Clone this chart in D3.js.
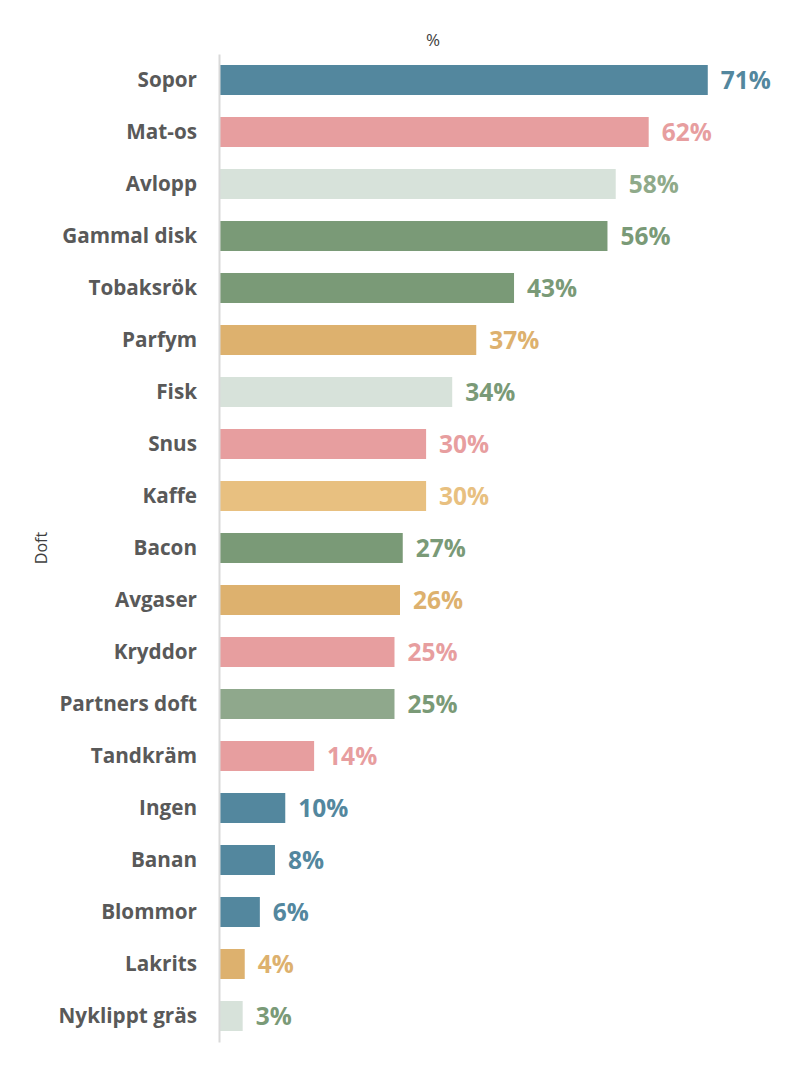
<!DOCTYPE html>
<html>
<head>
<meta charset="utf-8">
<script src="https://cdn.jsdelivr.net/npm/d3@7"></script>
<style>
  html, body { margin: 0; padding: 0; background: #fff; }
  svg { display: block; }
</style>
</head>
<body>
<svg id="chart" width="790" height="1065"></svg>
<script>
const categories = ["Sopor","Mat-os","Avlopp","Gammal disk","Tobaksrök","Parfym","Fisk","Snus","Kaffe","Bacon","Avgaser","Kryddor","Partners doft","Tandkräm","Ingen","Banan","Blommor","Lakrits","Nyklippt gräs"];
const values = [71.0, 62.4, 57.6, 56.4, 42.8, 37.3, 33.8, 30.0, 30.0, 26.6, 26.2, 25.4, 25.4, 13.7, 9.5, 8.0, 5.8, 3.6, 3.3];
const barColors = ["#53879E","#E79E9F","#D7E2DA","#7A9A77","#7A9A77","#DDB16E","#D7E2DA","#E79E9F","#E8C080","#7A9A77","#DDB16E","#E79E9F","#8FA88C","#E79E9F","#53879E","#53879E","#53879E","#DDB16E","#D7E2DA"];
const labelColors = ["#53879E","#E79E9F","#8FAA8A","#7A9A77","#7A9A77","#DDB16E","#7A9A77","#E79E9F","#E8C080","#7A9A77","#DDB16E","#E79E9F","#7A9A77","#E79E9F","#53879E","#53879E","#53879E","#DDB16E","#7A9A77"];
const xTitle = "%";
const yTitle = "Doft";

const svg = d3.select("#chart");
const font = "'Open Sans', sans-serif";

const x = d3.scaleLinear().domain([0, 80]).range([220, 220 + 80 * 6.87]);
const y = d3.scaleBand().domain(categories).range([54, 1042]).paddingInner(0.423).paddingOuter(0.2115);

// bars
svg.append("g").selectAll("rect").data(categories).join("rect")
  .attr("x", x(0))
  .attr("y", d => y(d))
  .attr("width", (d, i) => x(values[i]) - x(0))
  .attr("height", y.bandwidth())
  .attr("fill", (d, i) => barColors[i]);

// axis line + category labels
const yAxis = d3.axisLeft(y).tickSize(0).tickPadding(22);
const ag = svg.append("g").attr("transform", `translate(${x(0) - 1},0)`).call(yAxis);
ag.select(".domain").attr("stroke", "#D9D9D9").attr("stroke-width", 2);
ag.selectAll(".tick text")
  .attr("font-family", font)
  .attr("font-weight", "bold")
  .attr("font-size", 20.7)
  .attr("dy", "0.36em")
  .attr("fill", "#595959");

// value labels
svg.append("g").selectAll("text").data(categories).join("text")
  .attr("x", (d, i) => x(values[i]) + 13)
  .attr("y", d => y(d) + y.bandwidth() / 2)
  .attr("dy", "0.37em")
  .attr("font-family", font)
  .attr("font-weight", "bold")
  .attr("font-size", 24.5)
  .attr("fill", (d, i) => labelColors[i])
  .text((d, i) => Math.round(values[i]) + "%");

// titles
svg.append("text")
  .attr("x", 433).attr("y", 46)
  .attr("text-anchor", "middle")
  .attr("font-family", font)
  .attr("font-size", 17)
  .attr("fill", "#404040")
  .text(xTitle);

svg.append("text")
  .attr("transform", "translate(47,548) rotate(-90)")
  .attr("text-anchor", "middle")
  .attr("font-family", font)
  .attr("font-size", 16)
  .attr("fill", "#404040")
  .text(yTitle);
</script>
</body>
</html>
